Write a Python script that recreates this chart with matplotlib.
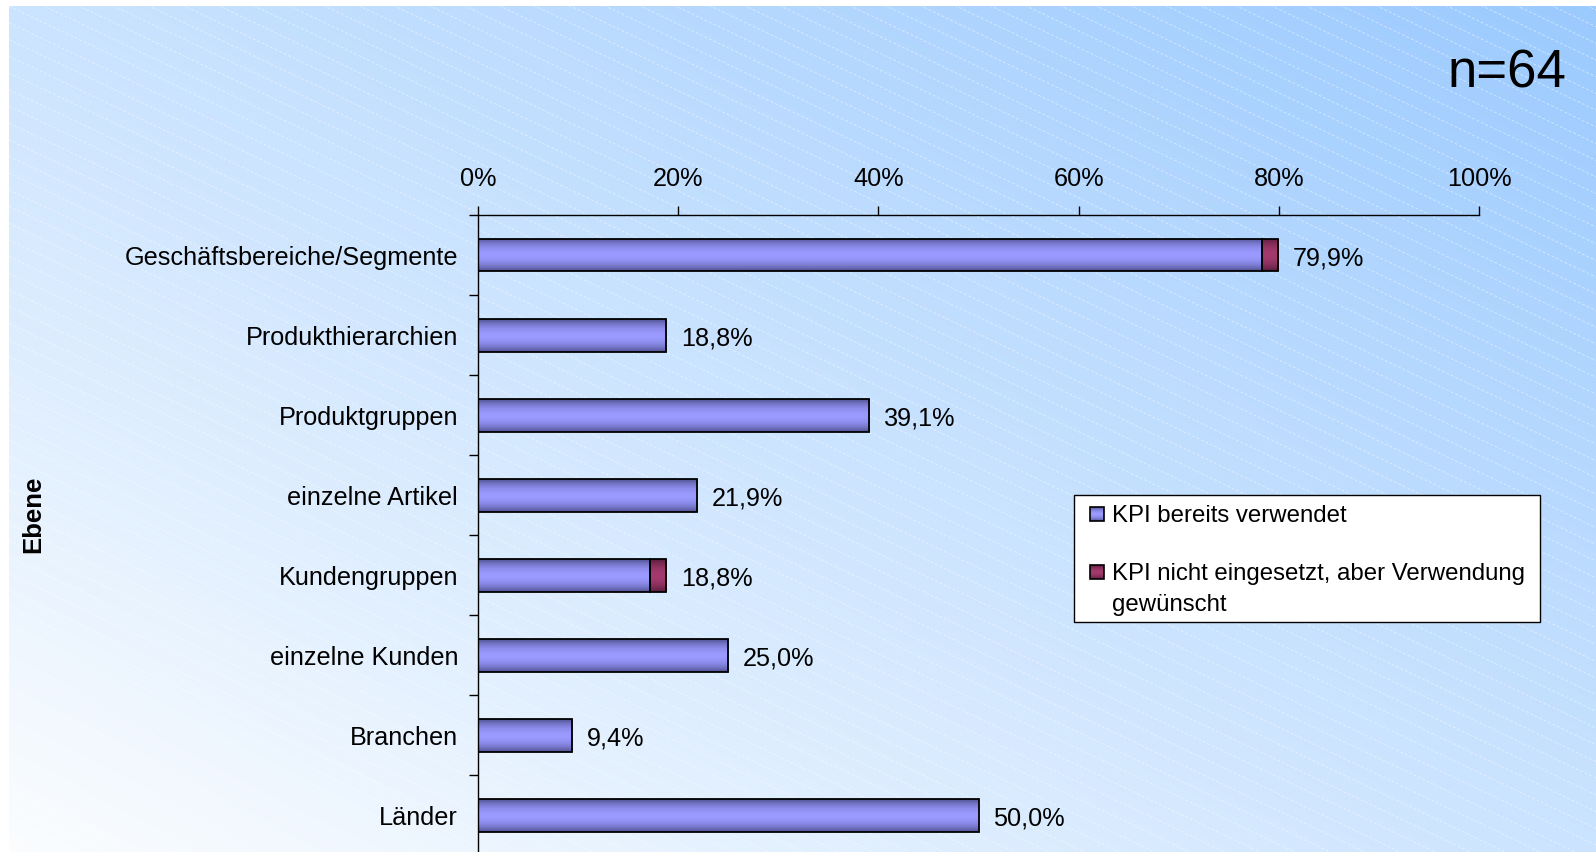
import numpy as np
import matplotlib
matplotlib.use("Agg")
import matplotlib.pyplot as plt
from matplotlib.colors import to_rgb
from matplotlib.patches import Rectangle

# ---------------- data ----------------
categories = ["Geschäftsbereiche/Segmente", "Produkthierarchien", "Produktgruppen",
              "einzelne Artikel", "Kundengruppen", "einzelne Kunden", "Branchen", "Länder"]
used = [78.3, 18.8, 39.1, 21.9, 17.2, 25.0, 9.4, 50.0]
wanted = [1.6, 0.0, 0.0, 0.0, 1.6, 0.0, 0.0, 0.0]
total_labels = ["79,9%", "18,8%", "39,1%", "21,9%", "18,8%", "25,0%", "9,4%", "50,0%"]
xticks = [0, 20, 40, 60, 80, 100]
xtick_labels = ["0%", "20%", "40%", "60%", "80%", "100%"]
series_names = ["KPI bereits verwendet", "KPI nicht eingesetzt, aber Verwendung\ngewünscht"]
n_label = "n=64"
axis_title = "Ebene"

plt.rcParams['font.family'] = ['Liberation Sans', 'DejaVu Sans']

W, H = 1596, 852
fig = plt.figure(figsize=(W / 100, H / 100), dpi=100)
fig.patch.set_facecolor('white')

# ---------------- background ----------------
bx0, by0 = 9, 6
bg = fig.add_axes([bx0 / W, 0, 1 - bx0 / W, 1 - by0 / H], zorder=-10)
bg.set_xlim(bx0, W)
bg.set_ylim(H, by0)
bg.axis('off')
gx = np.linspace(0, 1, 400)
gy = np.linspace(0, 1, 220)
GX, GY = np.meshgrid(gx, gy)
t = (GX + (1 - GY)) / 2
c_light = np.array(to_rgb('#FBFDFF'))
c_dark = np.array(to_rgb('#9BCAFE'))
img = c_light + (c_dark - c_light) * t[..., None]
bg.imshow(img, extent=(bx0, W, H, by0), aspect='auto', interpolation='bilinear')
xx = np.array([bx0, W])
for c in np.arange(-900, H + 20, 16.7):
    bg.plot(xx, c + 0.476 * xx, color='white', lw=0.7, alpha=0.45,
            linestyle=(0, (3, 2)))
bg.set_xlim(bx0, W)
bg.set_ylim(H, by0)


def grad_img(light, dark, n=64):
    s = np.linspace(0, 1, n)
    f = np.sin(np.pi * s) ** 0.8
    L = np.array(to_rgb(light))
    D = np.array(to_rgb(dark))
    col = D + (L - D) * f[:, None]
    return col[:, None, :]


blue_grad = grad_img('#9A9AFF', '#4E4E8E')
red_grad = grad_img('#A33A6E', '#561A3A')

# ---------------- main axes ----------------
top_px, bot_px, left_px, right_px = 215, 855.5, 478, 1479
ax = fig.add_axes([left_px / W, 1 - bot_px / H, (right_px - left_px) / W, (bot_px - top_px) / H])
ax.patch.set_alpha(0)

y = np.arange(len(categories))
h = 0.41
used_a = np.array(used)
wanted_a = np.array(wanted)

b1 = ax.barh(y, used_a, height=h, color='#9999FF', edgecolor='none', zorder=2)
b2 = ax.barh(y, wanted_a, left=used_a, height=h, color='#993366', edgecolor='none', zorder=2)
for bars, g in ((b1, blue_grad), (b2, red_grad)):
    for p in bars:
        if p.get_width() <= 0:
            continue
        x0, y0, w, hh = p.get_x(), p.get_y(), p.get_width(), p.get_height()
        im = ax.imshow(g, extent=(x0, x0 + w, y0 + hh, y0), aspect='auto',
                       interpolation='bilinear', zorder=2.2)
        im.set_clip_path(p)

ax.barh(y, used_a, height=h, fill=False, edgecolor='black', linewidth=1.3, zorder=3)
mask = wanted_a > 0
ax.barh(y[mask], wanted_a[mask], left=used_a[mask], height=h, fill=False,
        edgecolor='black', linewidth=1.3, zorder=3)

for i in range(len(categories)):
    ax.annotate(total_labels[i], xy=(used_a[i] + wanted_a[i], y[i]), xytext=(10.5, -2.5),
                textcoords='offset points', ha='left', va='center', fontsize=18.2, zorder=4)

ax.set_xlim(0, 100)
ax.set_ylim(len(categories) - 0.5, -0.5)
ax.xaxis.tick_top()
ax.set_xticks(xticks)
ax.set_xticklabels(xtick_labels, fontsize=18.2)
ax.tick_params(axis='x', direction='out', length=6.5, width=1, pad=11)
ax.set_yticks(y)
ax.set_yticklabels(categories, fontsize=18.2)
ax.set_yticks(np.arange(-0.5, len(categories), 1), minor=True)
ax.tick_params(axis='y', which='major', length=0, pad=14.4)
ax.tick_params(axis='y', which='minor', direction='out', length=6.5, width=1)
for s in ('right', 'bottom'):
    ax.spines[s].set_visible(False)
for s in ('top', 'left'):
    ax.spines[s].set_linewidth(1)
    ax.spines[s].set_color('black')

# ---------------- texts ----------------
fig.text(33 / W, 1 - 514 / H, axis_title, rotation=90, fontweight='bold', fontsize=18.5,
         ha='center', va='center')
fig.text(1566 / W, 1 - 88 / H, n_label, fontsize=38, ha='right', va='baseline')

# ---------------- legend ----------------
ov = fig.add_axes([0, 0, 1, 1], zorder=5)
ov.set_xlim(0, W)
ov.set_ylim(H, 0)
ov.axis('off')
ov.add_patch(Rectangle((1074, 495), 466, 127, facecolor='white', edgecolor='black', lw=1))
entry_y = [514, 572]
for name, g, yc in zip(series_names, (blue_grad, red_grad), entry_y):
    sq = Rectangle((1090, yc - 7), 14, 14, facecolor='none', edgecolor='black', lw=1.2, zorder=3)
    ov.add_patch(sq)
    ov.imshow(g, extent=(1090, 1104, yc + 7, yc - 7), aspect='auto', interpolation='bilinear', zorder=2)
    for j, line in enumerate(name.split('\n')):
        ov.text(1112, yc + 2 + j * 31, line, fontsize=17.3, ha='left', va='center')
ov.set_xlim(0, W)
ov.set_ylim(H, 0)

fig.savefig('out.png', dpi=100)
